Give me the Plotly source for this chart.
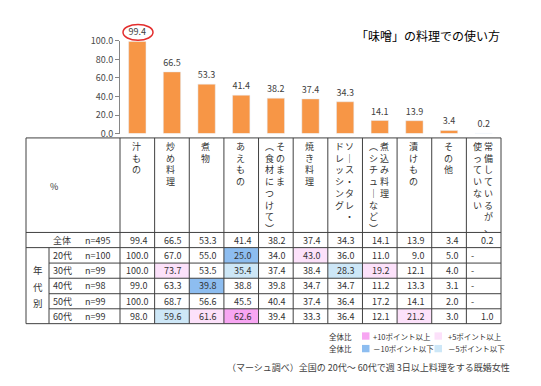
import plotly.graph_objects as go

# ---------------- data ----------------
categories = ["汁もの", "炒め料理", "煮物", "あえもの", "そのまま（食材につけて）", "焼き料理",
              "ソース・タレ・ドレッシング", "煮込み料理（シチューなど）", "漬けもの", "その他",
              "常備しているが、使っていない"]
# vertical header text columns (right column first)
header_cols = [["汁もの"], ["炒め料理"], ["煮物"], ["あえもの"], ["そのまま", "︵食材につけて︶"],
               ["焼き料理"], ["ソ｜ス・タレ・", "ドレッシング"], ["煮込み料理", "︵シチュ｜など︶"],
               ["漬けもの"], ["その他"], ["常備しているが、", "使っていない"]]
overall_label = "全体"
overall_n = "n=495"
overall = [99.4, 66.5, 53.3, 41.4, 38.2, 37.4, 34.3, 14.1, 13.9, 3.4, 0.2]
age_labels = ["20代", "30代", "40代", "50代", "60代"]
age_n = ["n=100", "n=99", "n=98", "n=99", "n=99"]
age_values = [
    [100.0, 67.0, 55.0, 25.0, 34.0, 43.0, 36.0, 11.0, 9.0, 5.0, None],
    [100.0, 73.7, 53.5, 35.4, 37.4, 38.4, 28.3, 19.2, 12.1, 4.0, None],
    [99.0, 63.3, 39.8, 38.8, 39.8, 34.7, 34.7, 11.2, 13.3, 3.1, None],
    [100.0, 68.7, 56.6, 45.5, 40.4, 37.4, 36.4, 17.2, 14.1, 2.0, None],
    [98.0, 59.6, 61.6, 62.6, 39.4, 33.3, 36.4, 12.1, 21.2, 3.0, 1.0],
]
y_ticks = [0, 20, 40, 60, 80, 100]
title_text = "「味噌」の料理での使い方"
group_label = "年代別"
footer = "（マーシュ調べ）全国の 20代～ 60代で週 3日以上料理をする既婚女性"
legend_rows = [["全体比", "+10ポイント以上", "+5ポイント以上"],
               ["全体比", "－10ポイント以下", "－5ポイント以下"]]

# ---------------- styles / layout ----------------
W, H = 541, 386
FONT = "Noto Sans CJK JP"
BAR = "#F79646"
PINK_S, PINK_L = "#F7A6F2", "#FCE1FA"
BLUE_S, BLUE_L = "#8DBDF0", "#CDE7F7"
LINE = "#404040"
TXT = "#333333"

def px(x):
    return x / W

def py(y):
    return 1 - y / H

X0, X1 = 120.0, 501.0
N = len(categories)
CW = (X1 - X0) / N
col_edges = [X0 + i * CW for i in range(N + 1)]
TL = 26.0
SUB = 49.0
row_edges = [135.5, 233.3, 249.0, 265.0, 280.7, 296.7, 312.3, 327.7]

fig = go.Figure()
fig.add_trace(go.Bar(
    x=categories, y=overall, marker_color=BAR, width=0.5,
    text=[f"{v:.1f}" for v in overall], textposition="outside", cliponaxis=False,
    constraintext="none", textfont=dict(size=9, color="#404040", family=FONT),
    hoverinfo="skip"))

shapes = []
annots = []

# cell highlight
def cell_color(v, base):
    if v is None:
        return None
    d = v - base
    if d >= 10:
        return PINK_S
    if d >= 5:
        return PINK_L
    if d <= -10:
        return BLUE_S
    if d <= -5:
        return BLUE_L
    return None

for r, vals in enumerate(age_values):
    ytop, ybot = row_edges[2 + r], row_edges[3 + r]
    for c, v in enumerate(vals):
        col = cell_color(v, overall[c])
        if col:
            shapes.append(dict(type="rect", xref="paper", yref="paper",
                               x0=px(col_edges[c]), x1=px(col_edges[c + 1]),
                               y0=py(ybot), y1=py(ytop), fillcolor=col,
                               line=dict(width=0), layer="below"))

def hline(y, xa, xb):
    shapes.append(dict(type="line", xref="paper", yref="paper", x0=px(xa), x1=px(xb),
                       y0=py(y), y1=py(y), line=dict(color=LINE, width=1)))

def vline(x, ya, yb):
    shapes.append(dict(type="line", xref="paper", yref="paper", x0=px(x), x1=px(x),
                       y0=py(ya), y1=py(yb), line=dict(color=LINE, width=1)))

for i, y in enumerate(row_edges):
    if i in (0, 1, 2, len(row_edges) - 1):
        hline(y, TL, X1)
    else:
        hline(y, SUB, X1)
vline(TL, row_edges[0], row_edges[-1])
vline(SUB, row_edges[2], row_edges[-1])
for x in col_edges:
    vline(x, row_edges[0], row_edges[-1])

def text(x, y, s, size=9, xanchor="center", yanchor="middle", color=TXT):
    annots.append(dict(xref="paper", yref="paper", x=px(x), y=py(y), text=s,
                       showarrow=False, xanchor=xanchor, yanchor=yanchor,
                       font=dict(size=size, color=color, family=FONT)))

# header vertical text
for c, cols in enumerate(header_cols):
    center = (col_edges[c] + col_edges[c + 1]) / 2
    if len(cols) == 1:
        xs = [center - 1]
    else:
        xs = [center + 4.5, center - 6]
    for x, s in zip(xs, cols):
        text(x, 135.5, "<br>".join(list(s)), size=9, yanchor="top")

text(54, 186, "%", size=9)

# overall row
ymid = (row_edges[1] + row_edges[2]) / 2
text(51, ymid, overall_label, xanchor="left")
text(83, ymid, overall_n, xanchor="left")
for c, v in enumerate(overall):
    text(col_edges[c + 1] - 5, ymid, f"{v:.1f}", xanchor="right")

# age rows
for r, vals in enumerate(age_values):
    ymid = (row_edges[2 + r] + row_edges[3 + r]) / 2
    text(51, ymid, age_labels[r], xanchor="left")
    text(83, ymid, age_n[r], xanchor="left")
    for c, v in enumerate(vals):
        if v is None:
            text(col_edges[c] + 3, ymid, "-", xanchor="left")
        else:
            text(col_edges[c + 1] - 5, ymid, f"{v:.1f}", xanchor="right")

for ch, y in zip(group_label, [272.5, 289.5, 306.5]):
    text(38, y, ch, size=9.5)

# legend
sw_cols = [[PINK_S, PINK_L], [BLUE_S, BLUE_L]]
for i, (row, cols) in enumerate(zip(legend_rows, sw_cols)):
    yc = 340.5 + i * 13
    text(354, yc, row[0], size=7.5, xanchor="right")
    for x0, col in zip([362, 434.5], cols):
        shapes.append(dict(type="rect", xref="paper", yref="paper", x0=px(x0), x1=px(x0 + 7.5),
                           y0=py(yc + 3.8), y1=py(yc - 3.8), fillcolor=col, line=dict(width=0)))
    text(370.5, yc, row[1], size=7.5, xanchor="left")
    text(446, yc, row[2], size=7.5, xanchor="left")

# title and footer
text(428, 30, title_text, size=12, color="#000000")
text(368, 373, footer, size=9, color="#404040")

# red circle around the top value
shapes.append(dict(type="circle", xref="paper", yref="paper", x0=px(123), x1=px(153),
                   y0=py(34.5), y1=py(18), line=dict(color="#E32D2D", width=1.5)))

fig.update_layout(
    width=W, height=H, autosize=False,
    margin=dict(l=0, r=0, t=0, b=0),
    paper_bgcolor="white", plot_bgcolor="white",
    showlegend=False, bargap=0.5,
    xaxis=dict(domain=[px(X0), px(X1)], range=[-0.5, N - 0.5], visible=False),
    yaxis=dict(domain=[py(131), py(35)], range=[0, 100], tickvals=y_ticks, tickformat=".1f",
               showline=True, linecolor="#868686", linewidth=1, ticks="outside",
               tickcolor="#868686", ticklen=4, showgrid=False, zeroline=False,
               tickfont=dict(size=9, color="#4A4A4A", family=FONT)),
    shapes=shapes, annotations=annots,
    font=dict(family=FONT),
)

fig.write_html("out.html", config={"displayModeBar": False},
               post_script="document.body.style.margin='0px';")
